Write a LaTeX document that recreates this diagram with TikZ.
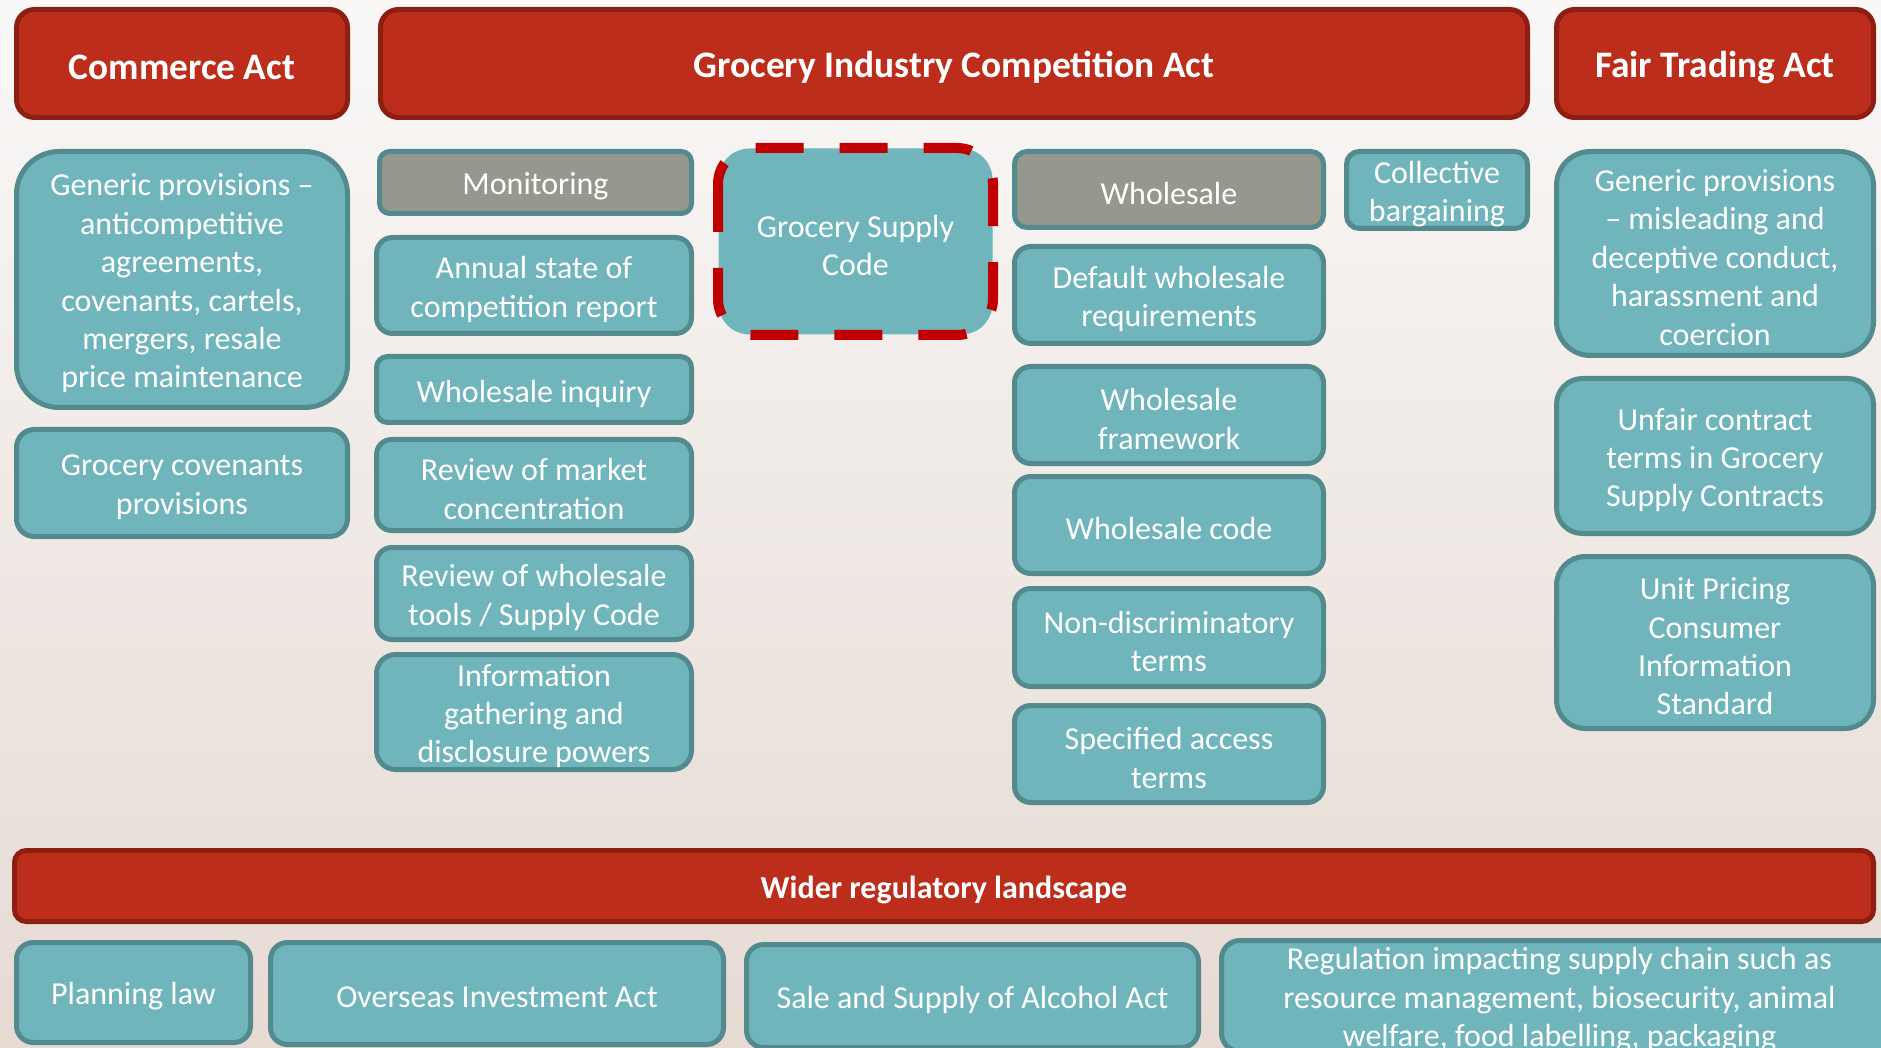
\documentclass[tikz,border=0pt]{standalone}
\usepackage{fontspec}
\setmainfont{Carlito}
\definecolor{tealfill}{HTML}{6FB5BB}
\definecolor{tealline}{HTML}{528A8E}
\definecolor{greyfill}{HTML}{98978E}
\definecolor{redfill}{HTML}{BD2D1B}
\definecolor{redline}{HTML}{8E1E11}
\definecolor{dashred}{HTML}{C00000}
\definecolor{bgtop}{HTML}{F9F8F7}
\definecolor{bgbot}{HTML}{E6DAD3}
\tikzset{
  base/.style={draw=tealline, line width=2.5pt, fill=tealfill},
  txt/.style={text=white, align=center, inner sep=0pt, font=\fontsize{16}{19.2}\selectfont},
  greybox/.style={fill=greyfill},
  hdr/.style={draw=redline, fill=redfill},
  hdrtxt/.style={font=\bfseries\fontsize{18.7}{22}\selectfont},
  subhdrtxt/.style={font=\bfseries\fontsize{16}{19}\selectfont},
  gsc/.style={draw=dashred, line width=5pt, dash pattern=on 24pt off 18pt},
}
% \bx[box style][text style]{name}{x1}{y1}{x2}{y2}{text}  (pixel coordinates)
\newcommand\bx[7][]{\bxx{#1}{#2}{#3}{#4}{#5}{#6}{#7}}
\newcommand\bxx[8]{%
  \pgfmathsetmacro\bw{(#6-#4)/2-2.5}%
  \pgfmathsetmacro\bh{(#7-#5)/2-2.5}%
  \pgfmathsetmacro\br{0.1667*min(\bw,\bh)}%
  \node[base,#1,minimum width=\bw pt,minimum height=\bh pt,rounded corners=\br pt]
    (#3) at ({(#4+#6)/2},{(#5+#7)/2}) {};
  \node[txt,#2] (#3-t) at ([yshift=-2pt]#3.center) {#8};}
\begin{document}
\begin{tikzpicture}[x=0.5pt,y=-0.5pt]
\useasboundingbox (0,0) rectangle (1881,1048);
\clip (0,0) rectangle (1881,1048);
\shade[top color=bgtop, bottom color=bgbot] (0,0) rectangle (1881,1048);
% headers
\bx[hdr]{hdrtxt}{ca}{14}{7}{350}{120}{Commerce Act}
\bx[hdr]{hdrtxt}{gica}{378}{7}{1530}{120}{Grocery Industry Competition Act}
\bx[hdr]{hdrtxt}{fta}{1554}{7}{1876}{120}{Fair Trading Act}
% Commerce Act column
\bx[]{}{gpa}{14}{149}{350}{410}{Generic provisions –\\anticompetitive\\agreements,\\covenants, cartels,\\mergers, resale\\price maintenance}
\bx[]{}{gcp}{14}{427}{350}{539}{Grocery covenants\\provisions}
% Monitoring column
\bx[greybox]{}{mon}{377}{149}{694}{216}{Monitoring}
\bx[]{}{ann}{374}{235}{694}{336}{Annual state of\\competition report}
\bx[]{}{wi}{374}{354}{694}{425}{Wholesale inquiry}
\bx[]{}{rmc}{374}{437}{694}{533}{Review of market\\concentration}
\bx[]{}{rwt}{374}{545}{694}{642}{Review of wholesale\\tools / Supply Code}
\bx[]{}{igd}{374}{652}{694}{772}{Information\\gathering and\\disclosure powers}
% Grocery Supply Code
\bx[draw=none]{}{gscf}{716}{146}{995}{337}{Grocery Supply\\Code}
\draw[gsc, rounded corners=18pt] (718,148) rectangle (993,335);
% Wholesale column
\bx[greybox]{}{wh}{1012}{149}{1326}{230}{Wholesale}
\bx[]{}{dwr}{1012}{244}{1326}{346}{Default wholesale\\requirements}
\bx[]{}{wf}{1012}{364}{1326}{466}{Wholesale\\framework}
\bx[]{}{wc}{1012}{474}{1326}{576}{Wholesale code}
\bx[]{}{ndt}{1012}{586}{1326}{689}{Non-discriminatory\\terms}
\bx[]{}{sat}{1012}{703}{1326}{805}{Specified access\\terms}
% Collective bargaining
\bx[]{}{cb}{1344}{149}{1530}{231}{Collective\\bargaining}
% Fair Trading column
\bx[]{}{gpf}{1554}{149}{1876}{358}{Generic provisions\\– misleading and\\deceptive conduct,\\harassment and\\coercion}
\bx[]{}{uct}{1554}{376}{1876}{536}{Unfair contract\\terms in Grocery\\Supply Contracts}
\bx[]{}{upc}{1554}{554}{1876}{731}{Unit Pricing\\Consumer\\Information\\Standard}
% Wider regulatory landscape
\bx[hdr]{subhdrtxt}{wrl}{12}{848}{1876}{924}{Wider regulatory landscape}
\bx[]{}{pl}{14}{940}{253}{1045}{Planning law}
\bx[]{}{oia}{268}{940}{726}{1047}{Overseas Investment Act}
\bx[]{}{ssa}{744}{942}{1201}{1050}{Sale and Supply of Alcohol Act}
\bx[]{}{reg}{1219}{938}{1900}{1054}{Regulation impacting supply chain such as\\resource management, biosecurity, animal\\welfare, food labelling, packaging}
\end{tikzpicture}
\end{document}
